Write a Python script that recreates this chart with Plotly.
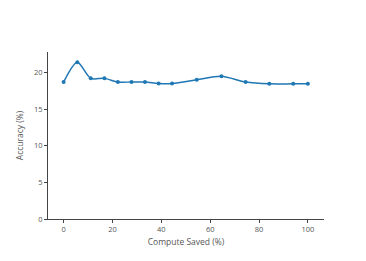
import plotly.graph_objects as go

compute_saved = [0, 5.6, 11.1, 16.7, 22.2, 27.8, 33.3, 38.9, 44.4, 54.5, 64.6, 74.5, 84.2, 94.0, 100]
accuracy = [18.7, 21.4, 19.2, 19.2, 18.7, 18.7, 18.7, 18.5, 18.5, 19.0, 19.5, 18.7, 18.45, 18.45, 18.45]

fig = go.Figure(go.Scatter(
    x=compute_saved, y=accuracy, mode="lines+markers",
    line=dict(color="#1f77b4", width=1.5, shape="spline", smoothing=0.8),
    marker=dict(color="#1f77b4", size=4),
))

axis_common = dict(
    showline=True, linecolor="#444", linewidth=1, showgrid=False, zeroline=False,
    ticks="outside", ticklen=3, tickcolor="#444",
    tickfont=dict(size=7.5, color="#555"),
)
fig.update_layout(
    width=366, height=261,
    margin=dict(l=34, r=50, t=44, b=50),
    plot_bgcolor="white", paper_bgcolor="white",
    font=dict(family="Open Sans, DejaVu Sans, sans-serif", size=8, color="#555"),
    showlegend=False,
    xaxis=dict(title=dict(text="Compute Saved (%)", font=dict(size=8.5), standoff=6),
               range=[-6.4, 106.6], dtick=20, **axis_common),
    yaxis=dict(title=dict(text="Accuracy (%)", font=dict(size=8.5), standoff=8),
               range=[0, 22.8], dtick=5, **axis_common),
)
fig.write_html("out.html")
